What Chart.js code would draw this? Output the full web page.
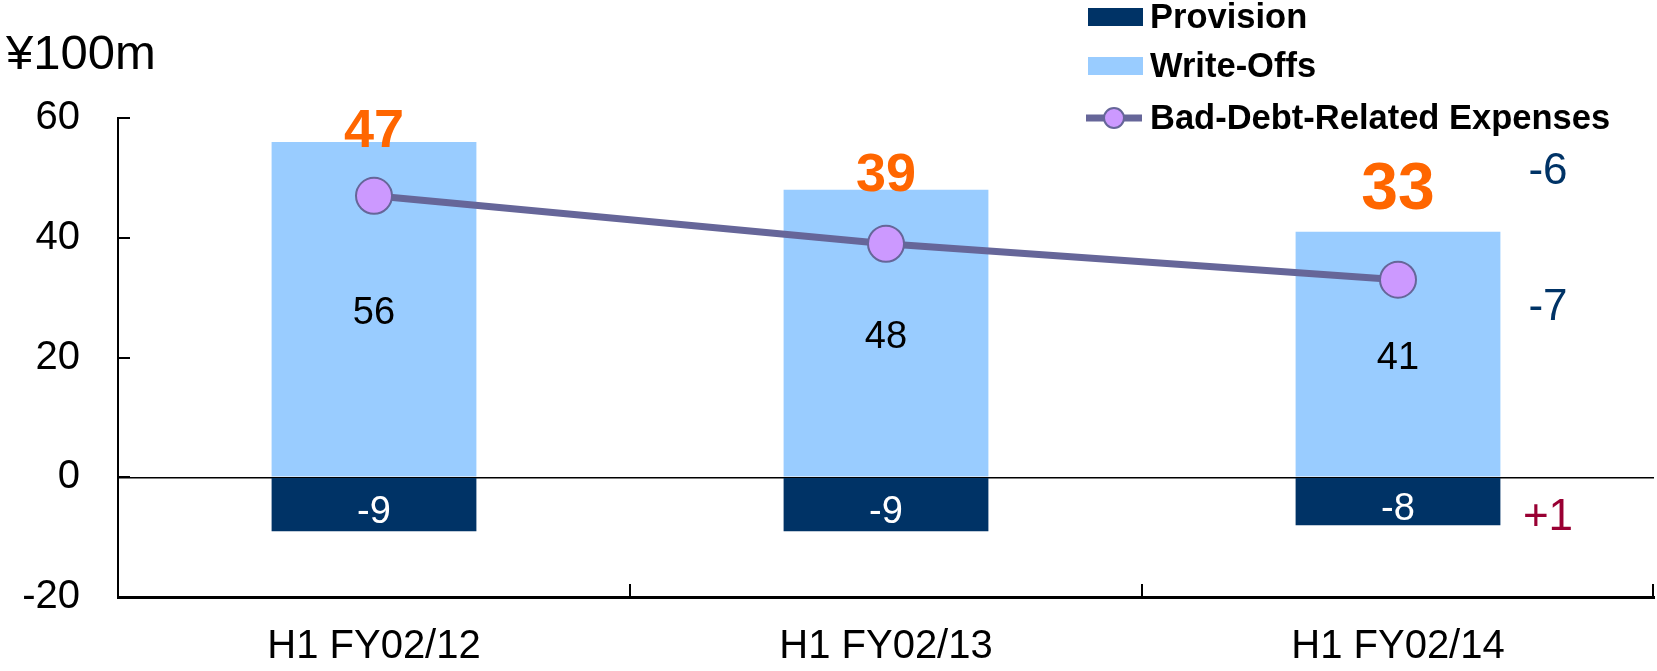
<!DOCTYPE html>
<html><head><meta charset="utf-8">
<script src="https://cdn.jsdelivr.net/npm/chart.js@4.4.1/dist/chart.umd.min.js"></script>
<style>html,body{margin:0;padding:0;background:#fff;}#wrap{width:1657px;height:671px;position:relative;}</style>
</head><body><div id="wrap"><canvas id="c" width="1657" height="671"></canvas></div>
<script>
// ---- data ----
const categories = ['H1 FY02/12', 'H1 FY02/13', 'H1 FY02/14'];
const provision = [-9, -9, -8];
const writeOffs = [56, 48, 41];
const badDebtExpenses = [47, 39, 33];
const yTickValues = [-20, 0, 20, 40, 60];
const unitLabel = '¥100m';
const changeTexts = ['-6', '-7', '+1'];
const seriesNames = ['Provision', 'Write-Offs', 'Bad-Debt-Related Expenses'];

// ---- styles ----
const FONT = "'Liberation Sans', Arial, sans-serif";
const C_PROV = '#003366', C_WO = '#99CCFF', C_LINE = '#666699', C_PT = '#CC99FF';
const totalLabelStyle = { offsets: [-10, -14, -41], sizes: [54, 54, 66], color: '#FF6600' };
const changeStyle = { dx: 150, anchors: [51.0, 28.3, -6.8], colors: ['#003366', '#003366', '#990033'], size: 44 };

const overlay = {
  id: 'overlay',
  afterDatasetsDraw(chart) {
    const ctx = chart.ctx, xs = chart.scales.x, ys = chart.scales.y;
    ctx.save();
    ctx.textAlign = 'center'; ctx.textBaseline = 'middle';
    categories.forEach((c, i) => {
      const x = xs.getPixelForValue(i);
      ctx.font = `38px ${FONT}`;
      ctx.fillStyle = '#000';
      ctx.fillText(String(writeOffs[i]), x, ys.getPixelForValue(writeOffs[i] / 2) + 4);
      ctx.fillStyle = '#fff';
      ctx.fillText(String(provision[i]), x, ys.getPixelForValue(provision[i] / 2) + 8);
      ctx.fillStyle = totalLabelStyle.color;
      ctx.font = `bold ${totalLabelStyle.sizes[i]}px ${FONT}`;
      ctx.fillText(String(badDebtExpenses[i]), x, ys.getPixelForValue(writeOffs[i]) + totalLabelStyle.offsets[i]);
    });
    ctx.restore();
  },
  afterDraw(chart) {
    const ctx = chart.ctx, xs = chart.scales.x, ys = chart.scales.y, a = chart.chartArea;
    ctx.save();
    // inner ticks on y axis
    ctx.strokeStyle = '#000'; ctx.lineWidth = 2;
    yTickValues.forEach(v => {
      const y = Math.round(ys.getPixelForValue(v));
      ctx.beginPath(); ctx.moveTo(a.left, y); ctx.lineTo(a.left + 12, y); ctx.stroke();
    });
    // category boundary ticks
    for (let i = 1; i <= categories.length; i++) {
      const x = Math.round(a.left + (a.right - a.left) * i / categories.length) - (i === categories.length ? 1 : 0);
      ctx.beginPath(); ctx.moveTo(x, a.bottom); ctx.lineTo(x, a.bottom - 13); ctx.stroke();
    }
    // unit label
    ctx.fillStyle = '#000'; ctx.font = `49px ${FONT}`;
    ctx.textAlign = 'left'; ctx.textBaseline = 'middle';
    ctx.fillText(unitLabel, 6, 55);
    // change annotations
    ctx.textAlign = 'center'; ctx.font = `${changeStyle.size}px ${FONT}`;
    changeTexts.forEach((t, i) => {
      ctx.fillStyle = changeStyle.colors[i];
      ctx.fillText(t, xs.getPixelForValue(categories.length - 1) + changeStyle.dx, ys.getPixelForValue(changeStyle.anchors[i]));
    });
    // legend
    const rows = [17, 66, 118];
    const ds = chart.data.datasets;
    const order = [1, 0, 2];
    ctx.font = `bold 34.5px ${FONT}`; ctx.textAlign = 'left';
    order.forEach((di, r) => {
      const d = ds[di], y = rows[r];
      if (d.type === 'line') {
        ctx.strokeStyle = C_LINE; ctx.lineWidth = 7;
        ctx.beginPath(); ctx.moveTo(1086, y); ctx.lineTo(1142, y); ctx.stroke();
        ctx.beginPath(); ctx.arc(1114, y, 10, 0, Math.PI * 2);
        ctx.fillStyle = C_PT; ctx.fill(); ctx.lineWidth = 2; ctx.stroke();
      } else {
        ctx.fillStyle = d.backgroundColor;
        ctx.fillRect(1088, y - 9, 55, 18);
      }
      ctx.fillStyle = '#000';
      ctx.fillText(d.label, 1150, y + 1);
    });
    ctx.restore();
  }
};

new Chart(document.getElementById('c'), {
  data: {
    labels: categories,
    datasets: [
      { type: 'bar', label: seriesNames[1], data: writeOffs, backgroundColor: C_WO, stack: 'bars', order: 2,
        categoryPercentage: 1, barPercentage: 0.40 },
      { type: 'bar', label: seriesNames[0], data: provision, backgroundColor: C_PROV, stack: 'bars', order: 2,
        categoryPercentage: 1, barPercentage: 0.40 },
      { type: 'line', label: seriesNames[2], data: badDebtExpenses, stack: 'line', order: 0,
        borderColor: C_LINE, borderWidth: 7, tension: 0,
        pointRadius: 18, pointBackgroundColor: C_PT, pointBorderColor: C_LINE, pointBorderWidth: 2 }
    ]
  },
  options: {
    responsive: false, animation: false, devicePixelRatio: 1,
    layout: { autoPadding: false, padding: { top: 118, right: 3, left: 0, bottom: 0 } },
    plugins: { legend: { display: false }, tooltip: { enabled: false } },
    scales: {
      x: {
        stacked: true, offset: true,
        grid: { display: false, drawTicks: false },
        border: { display: true, color: '#000', width: 3 },
        ticks: { font: { family: FONT, size: 40 }, color: '#000', padding: 26, maxRotation: 0 },
        afterFit: s => { s.height = 74; s.paddingLeft = 0; s.paddingRight = 0; }
      },
      y: {
        stacked: true, min: -20, max: 60,
        afterBuildTicks: s => { s.ticks = yTickValues.map(v => ({ value: v })); },
        ticks: { font: { family: FONT, size: 40 }, color: '#000', padding: 38 },
        grid: { drawTicks: false, lineWidth: 1.5,
          color: c => (c.tick && c.tick.value === 0) ? '#000' : 'rgba(0,0,0,0)' },
        border: { display: true, color: '#000', width: 2 },
        afterFit: s => { s.width = 118; }
      }
    }
  },
  plugins: [overlay]
});
</script></body></html>
